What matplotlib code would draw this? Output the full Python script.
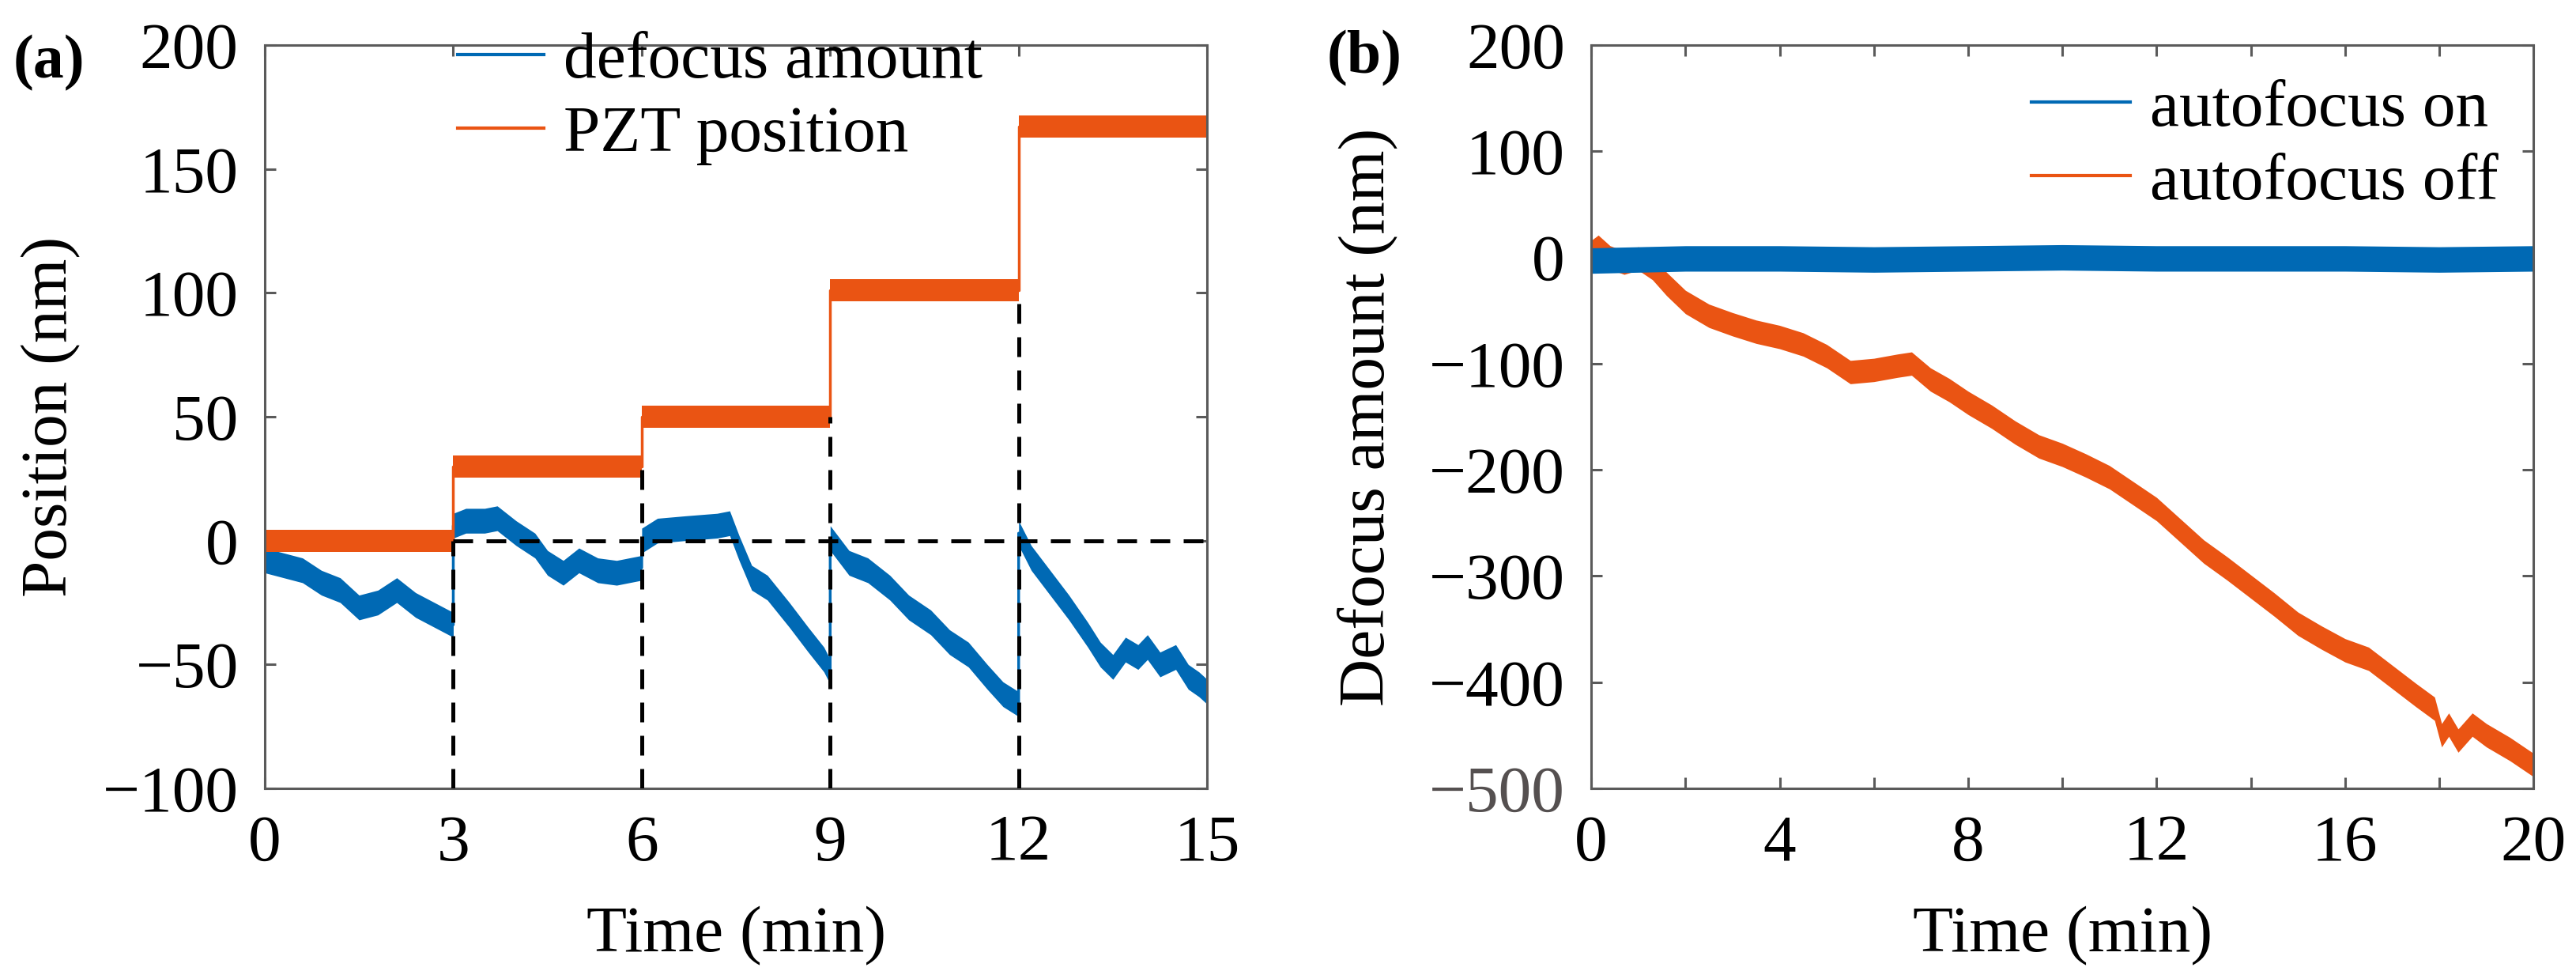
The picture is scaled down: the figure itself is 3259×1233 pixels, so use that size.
"""Two-panel defocus / PZT figure: (a) step response, (b) autofocus on vs off."""

import numpy as np
import matplotlib

matplotlib.use("Agg")
import matplotlib.pyplot as plt
from matplotlib.lines import Line2D

BLUE = "#0069B4"
ORANGE = "#EA5413"
SPINE = "#5a5a5a"
DASH = (0, (5, 3.4))

# ---- panel (a): PZT steps and measured defocus (nm) vs time (min)
STEP_TIMES = [0, 3, 6, 9, 12, 15]
PZT_LEVELS = [0, 30, 50, 101, 167]
PZT_NOISE = 4.5

DEFOCUS_T = [0.0, 0.3, 0.6, 0.9, 1.2, 1.5, 1.8, 2.1, 2.4, 2.7, 3.0,
             3.0, 3.2, 3.5, 3.7, 4.0, 4.3, 4.5, 4.75, 5.0, 5.3, 5.6, 6.0,
             6.0, 6.25, 6.7, 7.2, 7.4, 7.55, 7.75, 8.0, 8.35, 8.65, 8.9, 9.0,
             9.0, 9.3, 9.6, 9.95, 10.25, 10.6, 10.9, 11.2, 11.5, 11.75, 12.0,
             12.0, 12.2, 12.5, 12.8, 13.1, 13.3, 13.5, 13.7, 13.9, 14.05,
             14.25, 14.5, 14.7, 14.87, 15.0]
DEFOCUS_V = [-8, -10, -12, -17, -20, -27, -25, -20, -26, -30, -34,
             6, 8, 8, 9, 3, -2, -9, -13, -8, -12, -13, -11,
             0, 4, 5, 6, 7, -3, -15, -19, -30, -40, -48, -53,
             1, -9, -12, -19, -27, -33, -41, -46, -55, -62, -66,
             3, -7, -17, -27, -38, -46, -51, -44, -47, -43,
             -50, -47, -55, -58, -61]
DEFOCUS_NOISE = 5

# ---- panel (b): defocus with autofocus on / off
AF_ON_T = [0, 2, 4, 6, 8, 10, 12, 14, 16, 18, 20]
AF_ON_V = [-3, -1, -1, -2, -1, 0, -1, -1, -1, -2, -1]
AF_ON_NOISE = 12

AF_OFF_T = [0, 0.15, 0.4, 0.7, 1.0, 1.3, 1.6, 2.0, 2.5, 3.0, 3.5, 4.0, 4.5,
            5.0, 5.5, 6.0, 6.5, 6.8, 7.2, 7.6, 8.0, 8.5, 9.0, 9.5, 10.0,
            10.5, 11.0, 11.5, 12.0, 12.5, 13.0, 13.5, 14.0, 14.5, 15.0,
            15.5, 16.0, 16.5, 17.0, 17.5, 17.9, 18.05, 18.2, 18.4, 18.7,
            19.0, 19.5, 20.0]
AF_OFF_V = [5, 10, 0, -5, -1, -10, -25, -42, -55, -63, -70, -75, -82,
            -93, -108, -106, -102, -100, -115, -125, -137, -150, -165, -178,
            -186, -196, -207, -222, -237, -257, -277, -293, -310, -327, -345,
            -358, -370, -378, -395, -412, -425, -450, -440, -455, -440,
            -450, -463, -478]
AF_OFF_NOISE = 11

plt.rcParams.update({
    "font.family": ["Liberation Serif", "DejaVu Serif"],
    "font.size": 60,
    "axes.edgecolor": SPINE,
    "axes.linewidth": 2.2,
    "xtick.direction": "in",
    "ytick.direction": "in",
    "xtick.top": True,
    "ytick.right": True,
    "xtick.major.size": 10,
    "ytick.major.size": 10,
    "xtick.major.width": 2.2,
    "ytick.major.width": 2.2,
    "xtick.color": SPINE,
    "ytick.color": SPINE,
    "xtick.labelcolor": "black",
    "ytick.labelcolor": "black",
    "xtick.major.pad": 24,
    "ytick.major.pad": 24,
})


def band(ax, t, v, noise, color):
    t = np.asarray(t, float)
    v = np.asarray(v, float)
    ax.fill_between(t, v - noise, v + noise, color=color, lw=0, zorder=2)
    return ax.plot(t, v, color=color, lw=2.5, zorder=2)[0]


fig = plt.figure(figsize=(32.59, 12.33), dpi=100)
ax_a = fig.add_axes([0.1028, 0.1914, 0.3658, 0.7624])
ax_b = fig.add_axes([0.6177, 0.1914, 0.3658, 0.7624])

# (a)
pzt_t = np.repeat(STEP_TIMES, 2)[1:-1]
pzt_v = np.repeat(PZT_LEVELS, 2)
band(ax_a, DEFOCUS_T, DEFOCUS_V, DEFOCUS_NOISE, BLUE)
band(ax_a, pzt_t, pzt_v, PZT_NOISE, ORANGE)
ax_a.vlines(STEP_TIMES[1:-1], -100, PZT_LEVELS[:-1], colors="black",
            linestyles=[DASH], lw=3.6, zorder=3)
ax_a.hlines(0, STEP_TIMES[1], STEP_TIMES[-1], colors="black",
            linestyles=[DASH], lw=3.6, zorder=3)
ax_a.set_xlim(0, 15)
ax_a.set_ylim(-100, 200)
ax_a.set_xticks(STEP_TIMES)
ax_a.set_yticks(range(-100, 201, 50))
ax_a.set_xlabel("Time (min)")
ax_a.set_ylabel("Position (nm)")
ax_a.xaxis.set_label_coords(0.5, -0.158)
ax_a.yaxis.set_label_coords(-0.195, 0.5)
ax_a.legend([Line2D([], [], color=BLUE, lw=3), Line2D([], [], color=ORANGE, lw=3)],
            ["defocus amount", "PZT position"], loc="upper left",
            bbox_to_anchor=(0.205, 1.018), frameon=False, borderpad=0,
            borderaxespad=0, handlelength=1.3, handletextpad=0.3, labelspacing=0.2)

# (b)
band(ax_b, AF_OFF_T, AF_OFF_V, AF_OFF_NOISE, ORANGE)
band(ax_b, AF_ON_T, AF_ON_V, AF_ON_NOISE, BLUE)
ax_b.set_xlim(0, 20)
ax_b.set_ylim(-500, 200)
xt = list(range(0, 21, 2))
ax_b.set_xticks(xt, labels=[str(v) if v % 4 == 0 else "" for v in xt])
yt = list(range(-500, 201, 100))
ax_b.set_yticks(yt, labels=[f"{v:d}".replace("-", "\u2212") for v in yt])
ax_b.get_yticklabels()[0].set_color("#555050")
ax_b.set_xlabel("Time (min)")
ax_b.set_ylabel("Defocus amount (nm)")
ax_b.xaxis.set_label_coords(0.5, -0.158)
ax_b.yaxis.set_label_coords(-0.205, 0.5)
ax_b.legend([Line2D([], [], color=BLUE, lw=3), Line2D([], [], color=ORANGE, lw=3)],
            ["autofocus on", "autofocus off"], loc="upper right",
            bbox_to_anchor=(0.963, 0.954), frameon=False, borderpad=0,
            borderaxespad=0, handlelength=1.5, handletextpad=0.3, labelspacing=0.2)

fig.text(0.019, 0.935, "(a)", fontsize=56, fontweight="bold", ha="center", va="center")
fig.text(0.5296, 0.940, "(b)", fontsize=56, fontweight="bold", ha="center", va="center")

fig.savefig("out.png", dpi=100)
